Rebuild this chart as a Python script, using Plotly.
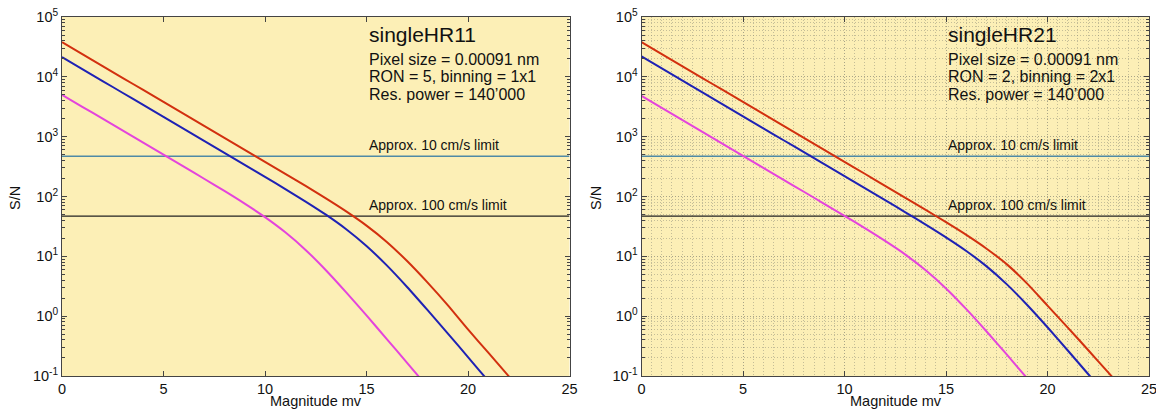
import plotly.graph_objects as go
from plotly.subplots import make_subplots

# ---------------- data ----------------
mag_l_red = list(range(0, 24))
sn_l_red = [38000, 24000, 15100, 9550, 6030, 3800, 2400, 1510, 955, 603, 379, 239,
            150, 92.9, 56.3, 32.6, 17.4, 8.34, 3.67, 1.53, 0.6, 0.245, 0.0998, 0.0398]
mag_l_blue = list(range(0, 23))
sn_l_blue = [21400, 13500, 8510, 5370, 3390, 2140, 1350, 851, 536, 338, 213, 133,
             82.4, 49.7, 28.4, 14.9, 7.05, 3.07, 1.27, 0.516, 0.207, 0.0825, 0.033]
mag_l_mag = list(range(0, 19))
sn_l_mag = [5010, 3160, 2000, 1260, 794, 500, 315, 198, 124, 76.0, 45.2, 25.2,
            12.8, 5.86, 2.50, 1.03, 0.414, 0.166, 0.066]

mag_r_red = list(range(0, 25))
sn_r_red = [38000, 24000, 15100, 9550, 6030, 3800, 2400, 1510, 955, 603, 380, 240,
            151, 95.2, 59.8, 37.2, 22.8, 13.4, 7.34, 3.5, 1.5, 0.645, 0.272, 0.114, 0.047]
mag_r_blue = list(range(0, 24))
sn_r_blue = [21900, 13800, 8710, 5500, 3470, 2190, 1380, 871, 550, 347, 219, 138,
             86.8, 54.5, 34.0, 20.8, 12.3, 6.79, 3.40, 1.54, 0.653, 0.267, 0.108, 0.0436]
mag_r_mag = list(range(0, 21))
sn_r_mag = [4790, 3020, 1905, 1200, 759, 479, 302, 190, 120, 75.6, 47.5, 29.6,
            18.1, 10.7, 5.85, 2.91, 1.31, 0.555, 0.227, 0.0913, 0.0363]

limit_x = [0, 25]
limit_10cms = 470
limit_100cms = 47

titles = ["singleHR11", "singleHR21"]
info = [["Pixel size = 0.00091 nm", "RON = 5, binning = 1x1", "Res. power = 140\u2019000"],
        ["Pixel size = 0.00091 nm", "RON = 2, binning = 2x1", "Res. power = 140\u2019000"]]

x_ticks = [0, 5, 10, 15, 20, 25]
y_tickvals = [0.1, 1, 10, 100, 1000, 10000, 100000]
y_ticktext = ["10<sup>-1</sup>", "10<sup>0</sup>", "10<sup>1</sup>", "10<sup>2</sup>",
              "10<sup>3</sup>", "10<sup>4</sup>", "10<sup>5</sup>"]

# ---------------- style ----------------
FONT = "Liberation Sans, Arial, Helvetica, sans-serif"
RED = "#d2300f"
BLUE = "#1f22b4"
MAGENTA = "#e444dc"
LIM10 = "#4f8aa6"
LIM100 = "#222222"
BG = "#fcefb6"
AXC = "#444444"
GRIDC = "rgba(140,140,120,0.5)"
GRIDDASH = "1px,2px"

# page offset (html body margin)
OFF = 8
W, H = 1164 - OFF, 414 - OFF
L, T = 62 - OFF, 17 - OFF
R = W - (1149 - OFF)
B = H - (376 - OFF)
pw, ph = W - L - R, H - T - B

fig = make_subplots(rows=1, cols=2, horizontal_spacing=(643 - 571) / pw)

curves = [
    [(mag_l_red, sn_l_red, RED), (mag_l_blue, sn_l_blue, BLUE), (mag_l_mag, sn_l_mag, MAGENTA)],
    [(mag_r_red, sn_r_red, RED), (mag_r_blue, sn_r_blue, BLUE), (mag_r_mag, sn_r_mag, MAGENTA)],
]

for c in range(2):
    col = c + 1
    fig.add_trace(go.Scatter(x=limit_x, y=[limit_10cms] * 2, mode="lines",
                             line=dict(color=LIM10, width=1.6), showlegend=False), row=1, col=col)
    fig.add_trace(go.Scatter(x=limit_x, y=[limit_100cms] * 2, mode="lines",
                             line=dict(color=LIM100, width=1.4), showlegend=False), row=1, col=col)
    for xs, ys, colr in curves[c]:
        fig.add_trace(go.Scatter(x=xs, y=ys, mode="lines", line_shape="spline",
                                 line=dict(color=colr, width=2, smoothing=0.6),
                                 showlegend=False), row=1, col=col)

    grid = (c == 1)
    fig.update_xaxes(range=[0, 25], tickvals=x_ticks, ticks="inside", ticklen=5,
                     tickcolor=AXC, showline=True, linecolor=AXC, linewidth=1, mirror="ticks",
                     zeroline=False, showgrid=grid, gridcolor=GRIDC,
                     griddash=GRIDDASH, gridwidth=1, ticklabeloverflow="allow",
                     automargin=False,
                     minor=dict(dtick=0.5, showgrid=grid, gridcolor=GRIDC,
                                griddash=GRIDDASH, gridwidth=1),
                     tickfont=dict(family=FONT, size=14.5, color="#111"),
                     row=1, col=col)
    fig.update_yaxes(type="log", range=[-1, 5], tickvals=y_tickvals, ticktext=y_ticktext,
                     ticks="inside", ticklen=5, tickcolor=AXC, showline=True, linecolor=AXC,
                     linewidth=1, mirror="ticks", zeroline=False, showgrid=grid,
                     gridcolor=GRIDC, griddash=GRIDDASH, gridwidth=1,
                     ticklabeloverflow="allow", automargin=False,
                     minor=dict(dtick="D1", ticks="inside", ticklen=3, tickcolor=AXC,
                                showgrid=grid, gridcolor=GRIDC,
                                griddash=GRIDDASH, gridwidth=1),
                     tickfont=dict(family=FONT, size=14.5, color="#111"),
                     row=1, col=col)

    xr = "x" if c == 0 else "x2"
    yr = "y" if c == 0 else "y2"
    fig.add_annotation(x=15, y=4.70, xref=xr, yref=yr, text=titles[c], showarrow=False,
                       xanchor="left", yanchor="middle",
                       font=dict(family=FONT, size=21, color="#111"))
    for k, yy in enumerate([4.29, 4.0, 3.70]):
        fig.add_annotation(x=15, y=yy, xref=xr, yref=yr, text=info[c][k], showarrow=False,
                           xanchor="left", yanchor="middle",
                           font=dict(family=FONT, size=16, color="#111"))
    fig.add_annotation(x=15, y=2.86, xref=xr, yref=yr, text="Approx. 10 cm/s limit",
                       showarrow=False, xanchor="left", yanchor="middle",
                       font=dict(family=FONT, size=14, color="#111"))
    fig.add_annotation(x=15, y=1.86, xref=xr, yref=yr, text="Approx. 100 cm/s limit",
                       showarrow=False, xanchor="left", yanchor="middle",
                       font=dict(family=FONT, size=14, color="#111"))


def px(x):
    return (x - OFF - L) / pw


def py(y):
    return (H - B - (y - OFF)) / ph


for cx in [316, 896]:
    fig.add_annotation(x=px(cx), y=py(401), xref="paper", yref="paper", text="Magnitude mv",
                       showarrow=False, xanchor="center", yanchor="middle",
                       font=dict(family=FONT, size=14.5, color="#111"))
for cx in [15, 596]:
    fig.add_annotation(x=px(cx), y=py(198), xref="paper", yref="paper", text="S/N",
                       showarrow=False, xanchor="center", yanchor="middle", textangle=-90,
                       font=dict(family=FONT, size=14.5, color="#111"))

fig.update_layout(width=W, height=H, margin=dict(l=L, r=R, t=T, b=B),
                  paper_bgcolor="white", plot_bgcolor=BG, showlegend=False,
                  font=dict(family=FONT))

fig.write_html("out.html")
